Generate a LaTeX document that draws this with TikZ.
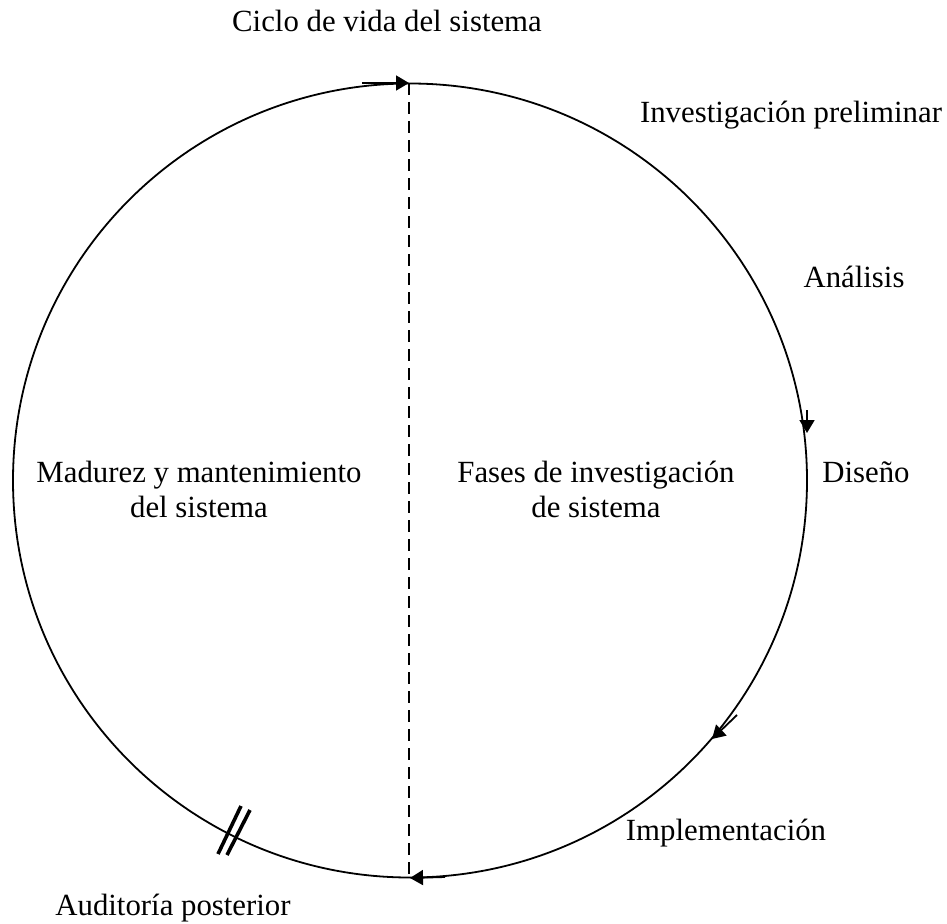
\documentclass[tikz,border=0pt]{standalone}
\usepackage{fontspec}
\setmainfont{Liberation Serif}
\usetikzlibrary{arrows.meta}
\begin{document}
\begin{tikzpicture}[x=1pt,y=-1pt,
  lbl/.style={anchor=base,inner sep=0pt,font=\fontsize{30.8}{35}\selectfont,align=center},
  ring/.style={line width=1.8pt},
  tipline/.style={line width=1.8pt,-{Triangle[length=13pt,width=15pt]}},
  slash/.style={line width=3.6pt},
  divider/.style={line width=2.2pt,dash pattern=on 12pt off 7pt}]
\useasboundingbox (0,0) rectangle (947,923);
\coordinate (C) at (410,480.5);
\draw[ring] (C) circle[radius=397];
\coordinate (top) at (409,83);
\coordinate (bot) at (409,878);
\draw[divider] (top) -- (bot);
% arrows
\coordinate (a1s) at (362,83);
\draw[tipline] (a1s) -- (top);
\coordinate (a2s) at (807,410);
\coordinate (a2e) at (807,433);
\draw[tipline] (a2s) -- (a2e);
\coordinate (a3s) at (737,715);
\coordinate (a3e) at (712,739);
\draw[tipline] (a3s) -- (a3e);
\coordinate (a4s) at (445,877);
\coordinate (a4e) at (410,878);
\draw[tipline] (a4s) -- (a4e);
% double slash
\coordinate (s1a) at (241,806);
\coordinate (s1b) at (218,854);
\coordinate (s2a) at (250,810);
\coordinate (s2b) at (227,855);
\draw[slash] (s1a) -- (s1b);
\draw[slash] (s2a) -- (s2b);
% labels
\node[lbl] (title) at (387,32) {Ciclo de vida del sistema};
\node[lbl] (inv) at (791,123) {Investigación preliminar};
\node[lbl] (ana) at (854,287) {Análisis};
\node[lbl] (dis) at (866,482) {Diseño};
\node[lbl] (mad) at (199,517) {Madurez y mantenimiento\\del sistema};
\node[lbl] (fas) at (596,517) {Fases de investigación\\de sistema};
\node[lbl] (imp) at (726,840) {Implementación};
\node[lbl] (aud) at (173,915) {Auditoría posterior};
\end{tikzpicture}
\end{document}
